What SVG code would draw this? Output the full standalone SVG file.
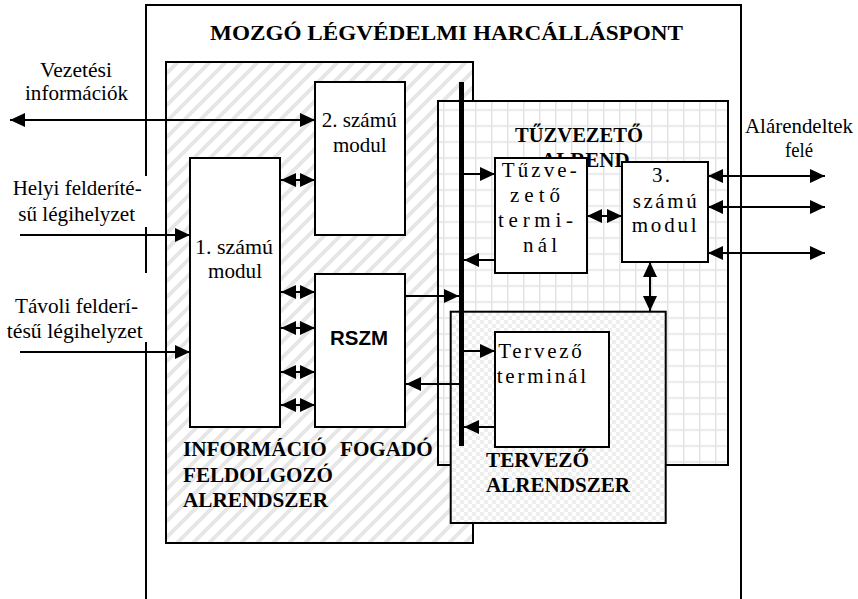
<svg xmlns="http://www.w3.org/2000/svg" width="858" height="599" viewBox="0 0 858 599">
<defs>
<pattern id="hatch" patternUnits="userSpaceOnUse" width="16" height="16">
<path d="M-4,4 L4,-4 M0,16 L16,0 M12,20 L20,12" stroke="#e6e6e6" stroke-width="4"/>
</pattern>
<pattern id="grid" patternUnits="userSpaceOnUse" x="11" y="13.25" width="16" height="16">
<rect width="16" height="16" fill="#fff"/>
<path d="M0,0.75 H16 M0.75,0 V16" stroke="#e3e3e3" stroke-width="1.5"/>
</pattern>
<pattern id="check" patternUnits="userSpaceOnUse" width="8" height="8">
<rect width="8" height="8" fill="#fff"/>
<rect width="4" height="4" fill="#eeeeee"/>
<rect x="4" y="4" width="4" height="4" fill="#eeeeee"/>
</pattern>
<clipPath id="fireclip"><rect x="500" y="100" width="130" height="100"/></clipPath>
<marker id="ah" markerUnits="userSpaceOnUse" markerWidth="15" markerHeight="14" refX="15" refY="7" orient="auto-start-reverse" viewBox="0 0 15 14"><path d="M0,0 L15,7 L0,14 z" fill="#000"/></marker>
</defs>
<style>
.box{fill:#fff;stroke:#000;stroke-width:2}
.t{font-family:"Liberation Serif","Times New Roman",serif;font-size:21px;fill:#000}
.b{font-weight:bold}
.c{stroke:#000;stroke-width:2;fill:none}
.ar{marker-end:url(#ah)}
.da{marker-start:url(#ah);marker-end:url(#ah)}
</style>
<rect width="858" height="599" fill="#fff"/>
<g id="frame">
<path d="M146,599 V5 H741 V599" fill="none" stroke="#000" stroke-width="2"/>
<text class="t b" x="210" y="40" font-size="23" textLength="473" lengthAdjust="spacingAndGlyphs">MOZGÓ LÉGVÉDELMI HARCÁLLÁSPONT</text>
</g>
<g id="label-vezetesi">
<text class="t" x="40" y="77" textLength="72" lengthAdjust="spacingAndGlyphs">Vezetési</text>
<text class="t" x="25" y="100" textLength="103" lengthAdjust="spacingAndGlyphs">információk</text>
</g>
<g id="label-helyi">
<rect x="8" y="176" width="142" height="51" fill="#fff"/>
<text class="t" x="12.7" y="195" textLength="129" lengthAdjust="spacingAndGlyphs">Helyi felderíté-</text>
<text class="t" x="18.3" y="220.7" textLength="116.7" lengthAdjust="spacingAndGlyphs">sű légihelyzet</text>
</g>
<g id="label-tavoli">
<rect x="4" y="273" width="146" height="69" fill="#fff"/>
<text class="t" x="15" y="313" textLength="123" lengthAdjust="spacingAndGlyphs">Távoli felderí-</text>
<text class="t" x="6.7" y="338" textLength="136" lengthAdjust="spacingAndGlyphs">tésű légihelyzet</text>
</g>
<g id="label-alarendeltek">
<text class="t" x="745" y="133" textLength="108" lengthAdjust="spacingAndGlyphs">Alárendeltek</text>
<text class="t" x="785" y="157" textLength="28" lengthAdjust="spacingAndGlyphs">felé</text>
</g>
<g id="info-subsystem">
<rect x="166" y="62" width="307" height="481" fill="url(#hatch)" stroke="#000" stroke-width="2"/>
<text class="t b" x="183" y="456" textLength="143.7" lengthAdjust="spacingAndGlyphs">INFORMÁCIÓ</text>
<text class="t b" x="340" y="456" textLength="92.7" lengthAdjust="spacingAndGlyphs">FOGADÓ</text>
<text class="t b" x="183" y="482" textLength="150" lengthAdjust="spacingAndGlyphs">FELDOLGOZÓ</text>
<text class="t b" x="183" y="507" textLength="145" lengthAdjust="spacingAndGlyphs">ALRENDSZER</text>
</g>
<g id="fire-subsystem">
<rect x="438" y="101" width="290" height="364" fill="url(#grid)" stroke="#000" stroke-width="2"/>
<text class="t b" x="515" y="142" textLength="128" lengthAdjust="spacingAndGlyphs">TŰZVEZETŐ</text>
<text class="t b" x="541" y="167" clip-path="url(#fireclip)">ALRENDSZER</text>
</g>
<g id="plan-subsystem">
<rect x="450.7" y="311.7" width="215" height="211.3" fill="url(#check)" stroke="#000" stroke-width="2"/>
<text class="t b" x="486" y="467" textLength="103" lengthAdjust="spacingAndGlyphs">TERVEZŐ</text>
<text class="t b" x="486" y="492" textLength="144" lengthAdjust="spacingAndGlyphs">ALRENDSZER</text>
</g>
<g id="modul1">
<rect class="box" x="190" y="158" width="90" height="269"/>
<text class="t" x="195" y="254" textLength="78" lengthAdjust="spacingAndGlyphs">1. számú</text>
<text class="t" x="208" y="278" textLength="54" lengthAdjust="spacingAndGlyphs">modul</text>
</g>
<g id="modul2">
<rect class="box" x="315" y="82" width="90" height="153"/>
<text class="t" x="321.7" y="127" textLength="75" lengthAdjust="spacingAndGlyphs">2. számú</text>
<text class="t" x="333" y="152" textLength="53.7" lengthAdjust="spacingAndGlyphs">modul</text>
</g>
<g id="rszm">
<rect class="box" x="315" y="274" width="90" height="153"/>
<text x="330" y="345" font-family="'Liberation Sans',Arial,sans-serif" font-weight="bold" font-size="20" textLength="58" lengthAdjust="spacingAndGlyphs">RSZM</text>
</g>
<g id="tuzvezeto-terminal">
<rect class="box" x="495" y="158" width="92" height="115"/>
<text class="t" x="501.7" y="177" textLength="75" lengthAdjust="spacing">Tűzve-</text>
<text class="t" x="510" y="202" textLength="50" lengthAdjust="spacing">zető</text>
<text class="t" x="498" y="227" textLength="75" lengthAdjust="spacing">termi-</text>
<text class="t" x="523" y="252" textLength="34" lengthAdjust="spacing">nál</text>
</g>
<g id="modul3">
<rect class="box" x="622" y="162" width="86" height="100"/>
<text class="t" x="652" y="182" textLength="18" lengthAdjust="spacing">3.</text>
<text class="t" x="632.7" y="208" textLength="64" lengthAdjust="spacing">számú</text>
<text class="t" x="631.7" y="232" textLength="65" lengthAdjust="spacing">modul</text>
</g>
<g id="tervezo-terminal">
<rect class="box" x="495" y="332" width="114" height="115"/>
<text class="t" x="498.3" y="358" textLength="83.4" lengthAdjust="spacing">Tervező</text>
<text class="t" x="496.7" y="383" textLength="89.3" lengthAdjust="spacing">terminál</text>
</g>
<g id="bus">
<rect x="459" y="82" width="5" height="364" fill="#000"/>
</g>
<g id="connectors">
<line class="c da" x1="10" y1="120" x2="315" y2="120"/>
<line class="c ar" x1="20" y1="235" x2="190" y2="235"/>
<line class="c ar" x1="20" y1="352" x2="190" y2="352"/>
<line class="c da" x1="281" y1="180" x2="315" y2="180"/>
<line class="c da" x1="281" y1="292" x2="315" y2="292"/>
<line class="c da" x1="281" y1="328" x2="315" y2="328"/>
<line class="c da" x1="281" y1="372" x2="315" y2="372"/>
<line class="c da" x1="281" y1="405" x2="315" y2="405"/>
<line class="c ar" x1="405" y1="296" x2="459" y2="296"/>
<line class="c ar" x1="461" y1="384" x2="406" y2="384"/>
<line class="c ar" x1="464" y1="174" x2="495" y2="174"/>
<line class="c ar" x1="495" y1="260" x2="464" y2="260"/>
<line class="c ar" x1="464" y1="351" x2="495" y2="351"/>
<line class="c ar" x1="495" y1="427" x2="464" y2="427"/>
<line class="c da" x1="587" y1="216" x2="622" y2="216"/>
<line class="c da" x1="708" y1="176" x2="825" y2="176"/>
<line class="c da" x1="708" y1="207" x2="825" y2="207"/>
<line class="c da" x1="708" y1="253" x2="825" y2="253"/>
<line class="c da" x1="650" y1="262" x2="650" y2="311"/>
</g>
</svg>
